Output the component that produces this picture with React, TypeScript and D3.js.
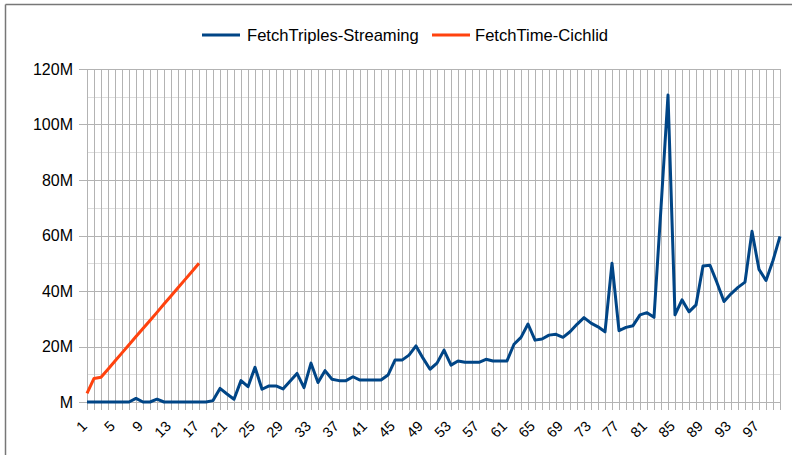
import React from "react";
import * as d3 from "d3";

const categories: number[] = Array.from({ length: 100 }, (_, i) => i + 1);

// FetchTriples-Streaming (millions)
const streaming: number[] = [
  0, 0, 0, 0, 0, 0, 0, 1.3, 0, 0,
  1, 0, 0, 0, 0, 0, 0, 0, 0.5, 4.9,
  2.9, 1, 7.7, 5.5, 12.5, 4.6, 5.8, 5.8, 4.7, 7.5,
  10.3, 5.2, 14, 7, 11.3, 8.2, 7.7, 7.7, 9.1, 7.9,
  7.9, 7.9, 7.9, 9.7, 15.1, 15.1, 16.9, 20.2, 15.8, 11.8,
  14, 18.7, 13.3, 14.8, 14.3, 14.3, 14.3, 15.4, 14.8, 14.8,
  14.8, 20.8, 23.3, 28.1, 22.3, 22.7, 24.1, 24.4, 23.3, 25.3,
  28, 30.4, 28.4, 27.1, 25.3, 50, 25.7, 26.9, 27.5, 31.4,
  32.2, 30.5, 70, 110.6, 31.4, 36.8, 32.5, 35, 49, 49.3,
  43, 36.2, 39, 41.3, 43.2, 61.5, 47.8, 43.8, 51, 59.7,
];

// FetchTime-Cichlid (millions), first 17 categories
const cichlid: number[] = [
  3.1, 8.5, 8.9, 11.8, 14.8, 17.7, 20.6, 23.6, 26.5, 29.4,
  32.3, 35.3, 38.2, 41.2, 44.1, 47, 50,
];

const yTicks: number[] = [0, 20, 40, 60, 80, 100, 120];
const yMinorTicks: number[] = [10, 30, 50, 70, 90, 110];
const yTickLabels: string[] = ["M", "20M", "40M", "60M", "80M", "100M", "120M"];
const xLabelEvery = 4;

const seriesNames = ["FetchTriples-Streaming", "FetchTime-Cichlid"];
const seriesColors = ["#004586", "#ff420e"];

const W = 792;
const H = 455;
const FONT = "'Liberation Sans', Arial, sans-serif";

export default function App() {
  const x = d3.scaleLinear().domain([1, 100]).range([87, 780]);
  const y = d3.scaleLinear().domain([0, 120]).range([402, 69]);

  const line = d3
    .line<number>()
    .x((_, i) => x(categories[i]))
    .y((d) => y(d));

  const [x0, x1] = x.range();
  const [yb, yt] = y.range();

  return (
    <svg
      width={W}
      height={H}
      style={{ position: "absolute", left: 0, top: 0, background: "#fff" }}
      fontFamily={FONT}
    >
      <rect x={0} y={0} width={W} height={H} fill="#fff" />
      {/* frame */}
      <line x1={5.5} y1={4.5} x2={W} y2={4.5} stroke="#777" strokeWidth={1.5} />
      <line x1={5.5} y1={4.5} x2={5.5} y2={H} stroke="#777" strokeWidth={1.5} />

      {/* minor horizontal grid */}
      {yMinorTicks.map((t) => (
        <line key={"mn" + t} x1={x0} x2={x1} y1={Math.round(y(t)) + 0.5} y2={Math.round(y(t)) + 0.5} stroke="#dddddd" strokeWidth={1} />
      ))}
      {/* vertical grid */}
      {categories.map((c) => (
        <line key={"v" + c} x1={Math.round(x(c)) + 0.5} x2={Math.round(x(c)) + 0.5} y1={yt} y2={yb + 8} stroke="#b3b3b3" strokeWidth={1} />
      ))}
      {/* major horizontal grid */}
      {yTicks.map((t) => (
        <line key={"mj" + t} x1={x0 - 8} x2={x1} y1={Math.round(y(t)) + 0.5} y2={Math.round(y(t)) + 0.5} stroke="#b3b3b3" strokeWidth={1} />
      ))}

      {/* y labels */}
      {yTicks.map((t, i) => (
        <text key={"yl" + t} x={73} y={y(t)} dy="0.36em" textAnchor="end" fontSize={16} fill="#000">
          {yTickLabels[i]}
        </text>
      ))}

      {/* x labels */}
      {categories
        .filter((c) => (c - 1) % xLabelEvery === 0)
        .map((c) => {
          const ax = x(c) + 1;
          const ay = 427;
          return (
            <text key={"xl" + c} x={ax} y={ay} textAnchor="end" fontSize={14.5} fill="#000" transform={`rotate(-45 ${ax} ${ay})`}>
              {c}
            </text>
          );
        })}

      {/* series */}
      <path d={line(streaming) || ""} fill="none" stroke={seriesColors[0]} strokeWidth={3} strokeLinejoin="round" />
      <path d={line(cichlid) || ""} fill="none" stroke={seriesColors[1]} strokeWidth={3} strokeLinejoin="round" />

      {/* legend */}
      <line x1={202} x2={240} y1={35} y2={35} stroke={seriesColors[0]} strokeWidth={3} />
      <text x={247} y={35} dy="0.36em" fontSize={16.6} fill="#000">{seriesNames[0]}</text>
      <line x1={432} x2={470} y1={35} y2={35} stroke={seriesColors[1]} strokeWidth={3} />
      <text x={475} y={35} dy="0.36em" fontSize={16.6} fill="#000">{seriesNames[1]}</text>
    </svg>
  );
}
